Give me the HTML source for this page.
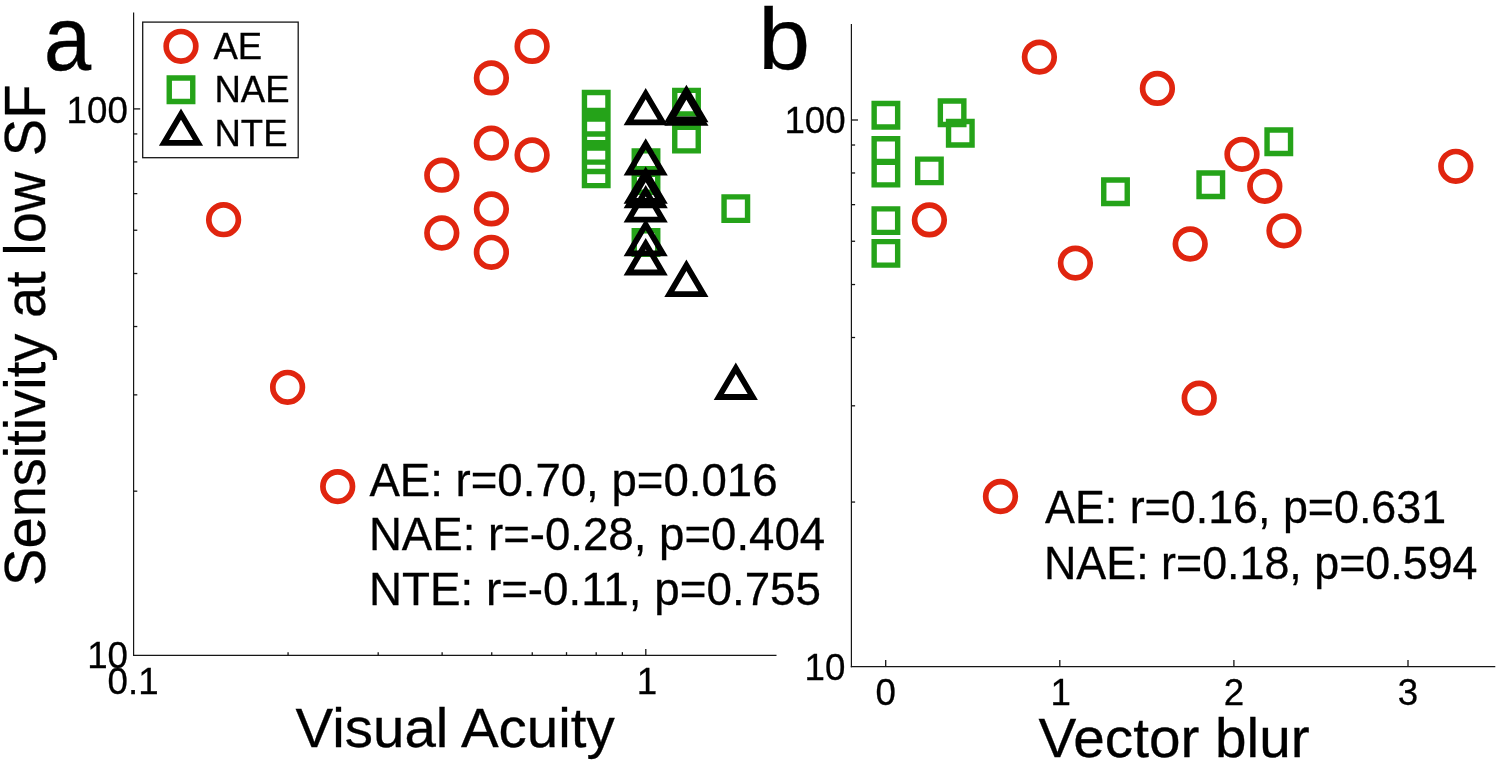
<!DOCTYPE html>
<html lang="en"><head><meta charset="utf-8"><title>Figure</title>
<style>
html,body{margin:0;padding:0;background:#fff;}
body{width:1500px;height:761px;overflow:hidden;}
svg{display:block;}
text{font-family:"Liberation Sans",sans-serif;fill:#000;stroke:#000;stroke-width:0.3px;}
</style></head><body>
<svg width="1500" height="761" viewBox="0 0 1500 761">
<rect width="1500" height="761" fill="#fff"/>
<line x1="133.60" y1="12.60" x2="133.60" y2="656.05" stroke="#161616" stroke-width="1.2"/>
<line x1="133.00" y1="655.45" x2="776.50" y2="655.45" stroke="#161616" stroke-width="1.2"/>
<line x1="133.60" y1="491.17" x2="137.30" y2="491.17" stroke="#161616" stroke-width="1.3"/>
<line x1="133.60" y1="394.86" x2="137.30" y2="394.86" stroke="#161616" stroke-width="1.3"/>
<line x1="133.60" y1="326.53" x2="137.30" y2="326.53" stroke="#161616" stroke-width="1.3"/>
<line x1="133.60" y1="273.53" x2="137.30" y2="273.53" stroke="#161616" stroke-width="1.3"/>
<line x1="133.60" y1="230.23" x2="137.30" y2="230.23" stroke="#161616" stroke-width="1.3"/>
<line x1="133.60" y1="193.62" x2="137.30" y2="193.62" stroke="#161616" stroke-width="1.3"/>
<line x1="133.60" y1="161.90" x2="137.30" y2="161.90" stroke="#161616" stroke-width="1.3"/>
<line x1="133.60" y1="133.92" x2="137.30" y2="133.92" stroke="#161616" stroke-width="1.3"/>
<line x1="133.60" y1="108.90" x2="140.20" y2="108.90" stroke="#161616" stroke-width="1.3"/>
<line x1="288.07" y1="655.45" x2="288.07" y2="652.15" stroke="#161616" stroke-width="1.3"/>
<line x1="378.19" y1="655.45" x2="378.19" y2="652.15" stroke="#161616" stroke-width="1.3"/>
<line x1="442.13" y1="655.45" x2="442.13" y2="652.15" stroke="#161616" stroke-width="1.3"/>
<line x1="491.73" y1="655.45" x2="491.73" y2="652.15" stroke="#161616" stroke-width="1.3"/>
<line x1="532.26" y1="655.45" x2="532.26" y2="652.15" stroke="#161616" stroke-width="1.3"/>
<line x1="566.52" y1="655.45" x2="566.52" y2="652.15" stroke="#161616" stroke-width="1.3"/>
<line x1="596.20" y1="655.45" x2="596.20" y2="652.15" stroke="#161616" stroke-width="1.3"/>
<line x1="622.38" y1="655.45" x2="622.38" y2="652.15" stroke="#161616" stroke-width="1.3"/>
<line x1="645.80" y1="655.45" x2="645.80" y2="648.95" stroke="#161616" stroke-width="1.3"/>
<rect x="142.7" y="22.1" width="155.5" height="135.6" fill="#fff" stroke="#161616" stroke-width="1.3"/>
<circle cx="223.6" cy="219.7" r="14.8" fill="none" stroke="#e0250f" stroke-width="5.7"/>
<circle cx="287.6" cy="387.3" r="14.8" fill="none" stroke="#e0250f" stroke-width="5.7"/>
<circle cx="337.7" cy="486.6" r="14.8" fill="none" stroke="#e0250f" stroke-width="5.7"/>
<circle cx="441.8" cy="175.2" r="14.8" fill="none" stroke="#e0250f" stroke-width="5.7"/>
<circle cx="441.8" cy="233.0" r="14.8" fill="none" stroke="#e0250f" stroke-width="5.7"/>
<circle cx="491.4" cy="77.9" r="14.8" fill="none" stroke="#e0250f" stroke-width="5.7"/>
<circle cx="491.4" cy="143.2" r="14.8" fill="none" stroke="#e0250f" stroke-width="5.7"/>
<circle cx="491.4" cy="208.9" r="14.8" fill="none" stroke="#e0250f" stroke-width="5.7"/>
<circle cx="491.4" cy="252.3" r="14.8" fill="none" stroke="#e0250f" stroke-width="5.7"/>
<circle cx="532.1" cy="46.4" r="14.8" fill="none" stroke="#e0250f" stroke-width="5.7"/>
<circle cx="532.1" cy="155.0" r="14.8" fill="none" stroke="#e0250f" stroke-width="5.7"/>
<path d="M584.45 92.45h23.5v23.5h-23.5ZM584.45 110.55h23.5v23.5h-23.5ZM584.45 119.15h23.5v23.5h-23.5ZM584.45 148.05h23.5v23.5h-23.5ZM584.45 162.15h23.5v23.5h-23.5ZM634.25 150.85h23.5v23.5h-23.5ZM634.25 168.75h23.5v23.5h-23.5ZM634.25 230.75h23.5v23.5h-23.5ZM674.75 90.35h23.5v23.5h-23.5ZM674.75 127.35h23.5v23.5h-23.5ZM724.05 196.85h23.5v23.5h-23.5ZM169.25 78.05h23.5v23.5h-23.5Z" fill="none" stroke="#25a319" stroke-width="5.4" stroke-linejoin="miter"/>
<path d="M645.70 93.60L628.70 122.40L662.70 122.40Z" fill="none" stroke="#000" stroke-width="5.8" stroke-linejoin="miter" stroke-miterlimit="10"/>
<path d="M645.70 143.90L628.70 172.70L662.70 172.70Z" fill="none" stroke="#000" stroke-width="5.8" stroke-linejoin="miter" stroke-miterlimit="10"/>
<path d="M645.70 172.10L628.70 200.90L662.70 200.90Z" fill="none" stroke="#000" stroke-width="5.8" stroke-linejoin="miter" stroke-miterlimit="10"/>
<path d="M645.70 176.60L628.70 205.40L662.70 205.40Z" fill="none" stroke="#000" stroke-width="5.8" stroke-linejoin="miter" stroke-miterlimit="10"/>
<path d="M645.70 190.80L628.70 219.60L662.70 219.60Z" fill="none" stroke="#000" stroke-width="5.8" stroke-linejoin="miter" stroke-miterlimit="10"/>
<path d="M645.70 224.60L628.70 253.40L662.70 253.40Z" fill="none" stroke="#000" stroke-width="5.8" stroke-linejoin="miter" stroke-miterlimit="10"/>
<path d="M645.70 243.70L628.70 272.50L662.70 272.50Z" fill="none" stroke="#000" stroke-width="5.8" stroke-linejoin="miter" stroke-miterlimit="10"/>
<path d="M686.40 90.50L669.40 119.30L703.40 119.30Z" fill="none" stroke="#000" stroke-width="5.8" stroke-linejoin="miter" stroke-miterlimit="10"/>
<path d="M686.40 94.00L669.40 122.80L703.40 122.80Z" fill="none" stroke="#000" stroke-width="5.8" stroke-linejoin="miter" stroke-miterlimit="10"/>
<path d="M686.40 265.30L669.40 294.10L703.40 294.10Z" fill="none" stroke="#000" stroke-width="5.8" stroke-linejoin="miter" stroke-miterlimit="10"/>
<path d="M735.80 368.20L718.80 397.00L752.80 397.00Z" fill="none" stroke="#000" stroke-width="5.8" stroke-linejoin="miter" stroke-miterlimit="10"/>
<circle cx="181.0" cy="46.3" r="14.8" fill="none" stroke="#e0250f" stroke-width="5.7"/>
<path d="M181.00 114.10L164.00 142.90L198.00 142.90Z" fill="none" stroke="#000" stroke-width="5.8" stroke-linejoin="miter" stroke-miterlimit="10"/>
<text x="213.5" y="59.1" font-size="36.5" text-anchor="start">AE</text>
<text x="214.5" y="102.3" font-size="36.5" text-anchor="start">NAE</text>
<text x="214.5" y="145.8" font-size="36.5" text-anchor="start">NTE</text>
<line x1="851.40" y1="23.90" x2="851.40" y2="667.30" stroke="#161616" stroke-width="1.2"/>
<line x1="850.80" y1="666.70" x2="1495.30" y2="666.70" stroke="#161616" stroke-width="1.2"/>
<line x1="851.40" y1="502.06" x2="855.10" y2="502.06" stroke="#161616" stroke-width="1.3"/>
<line x1="851.40" y1="405.81" x2="855.10" y2="405.81" stroke="#161616" stroke-width="1.3"/>
<line x1="851.40" y1="337.51" x2="855.10" y2="337.51" stroke="#161616" stroke-width="1.3"/>
<line x1="851.40" y1="284.54" x2="855.10" y2="284.54" stroke="#161616" stroke-width="1.3"/>
<line x1="851.40" y1="241.26" x2="855.10" y2="241.26" stroke="#161616" stroke-width="1.3"/>
<line x1="851.40" y1="204.67" x2="855.10" y2="204.67" stroke="#161616" stroke-width="1.3"/>
<line x1="851.40" y1="172.97" x2="855.10" y2="172.97" stroke="#161616" stroke-width="1.3"/>
<line x1="851.40" y1="145.01" x2="855.10" y2="145.01" stroke="#161616" stroke-width="1.3"/>
<line x1="851.40" y1="120.00" x2="858.00" y2="120.00" stroke="#161616" stroke-width="1.3"/>
<line x1="885.70" y1="666.70" x2="885.70" y2="659.90" stroke="#161616" stroke-width="1.3"/>
<line x1="1059.80" y1="666.70" x2="1059.80" y2="659.90" stroke="#161616" stroke-width="1.3"/>
<line x1="1233.90" y1="666.70" x2="1233.90" y2="659.90" stroke="#161616" stroke-width="1.3"/>
<line x1="1408.00" y1="666.70" x2="1408.00" y2="659.90" stroke="#161616" stroke-width="1.3"/>
<circle cx="929.4" cy="219.9" r="14.8" fill="none" stroke="#e0250f" stroke-width="5.7"/>
<circle cx="1039.4" cy="57.1" r="14.8" fill="none" stroke="#e0250f" stroke-width="5.7"/>
<circle cx="1157.4" cy="88.4" r="14.8" fill="none" stroke="#e0250f" stroke-width="5.7"/>
<circle cx="1242.0" cy="154.3" r="14.8" fill="none" stroke="#e0250f" stroke-width="5.7"/>
<circle cx="1264.8" cy="186.3" r="14.8" fill="none" stroke="#e0250f" stroke-width="5.7"/>
<circle cx="1284.0" cy="230.8" r="14.8" fill="none" stroke="#e0250f" stroke-width="5.7"/>
<circle cx="1190.2" cy="244.0" r="14.8" fill="none" stroke="#e0250f" stroke-width="5.7"/>
<circle cx="1075.4" cy="263.1" r="14.8" fill="none" stroke="#e0250f" stroke-width="5.7"/>
<circle cx="1455.8" cy="166.3" r="14.8" fill="none" stroke="#e0250f" stroke-width="5.7"/>
<circle cx="1199.2" cy="398.2" r="14.8" fill="none" stroke="#e0250f" stroke-width="5.7"/>
<circle cx="1000.5" cy="496.5" r="14.8" fill="none" stroke="#e0250f" stroke-width="5.7"/>
<path d="M874.15 103.45h23.5v23.5h-23.5ZM874.15 138.75h23.5v23.5h-23.5ZM874.15 161.35h23.5v23.5h-23.5ZM874.15 208.85h23.5v23.5h-23.5ZM874.15 241.65h23.5v23.5h-23.5ZM940.35 101.05h23.5v23.5h-23.5ZM948.55 121.45h23.5v23.5h-23.5ZM917.65 159.15h23.5v23.5h-23.5ZM1267.05 129.95h23.5v23.5h-23.5ZM1199.05 173.05h23.5v23.5h-23.5ZM1103.75 180.05h23.5v23.5h-23.5Z" fill="none" stroke="#25a319" stroke-width="5.4" stroke-linejoin="miter"/>
<text transform="translate(43.7 70.4) scale(0.948 1)" font-size="90" text-anchor="start">a</text>
<text transform="translate(758.2 69.3) scale(1.06 1)" font-size="88" text-anchor="start">b</text>
<text x="127.8" y="122.5" font-size="36.7" text-anchor="end">100</text>
<text x="128.0" y="668.3" font-size="36.7" text-anchor="end">10</text>
<text x="107.6" y="694.4" font-size="36.7" text-anchor="start">0.1</text>
<text x="647.0" y="694.4" font-size="36.7" text-anchor="middle">1</text>
<text x="845.7" y="133.0" font-size="36.7" text-anchor="end">100</text>
<text x="845.4" y="680.3" font-size="36.7" text-anchor="end">10</text>
<text x="885.7" y="705.4" font-size="36.7" text-anchor="middle">0</text>
<text x="1060.8" y="705.4" font-size="36.7" text-anchor="middle">1</text>
<text x="1233.9" y="705.4" font-size="36.7" text-anchor="middle">2</text>
<text x="1408.0" y="705.4" font-size="36.7" text-anchor="middle">3</text>
<text transform="translate(295.6 746.6) scale(1.0176 1)" font-size="55.5" text-anchor="start">Visual Acuity</text>
<text transform="translate(1038.6 757.2) scale(1.0216 1)" font-size="55.5" text-anchor="start">Vector blur</text>
<text transform="translate(44.9 585.9) rotate(-90) scale(0.9746 1)" font-size="57.5">Sensitivity at low SF</text>
<text x="369.4" y="495.8" font-size="45.6" text-anchor="start">AE: r=0.70, p=0.016</text>
<text x="368.9" y="550.4" font-size="45.6" text-anchor="start">NAE: r=-0.28, p=0.404</text>
<text transform="translate(368.9 605.0) scale(1.004 1)" font-size="45.6" text-anchor="start">NTE: r=-0.11, p=0.755</text>
<text transform="translate(1045 523.2) scale(0.964 1)" font-size="46.5" text-anchor="start">AE: r=0.16, p=0.631</text>
<text transform="translate(1044.0 578.9) scale(0.964 1)" font-size="46.5" text-anchor="start">NAE: r=0.18, p=0.594</text>
</svg>
</body></html>
